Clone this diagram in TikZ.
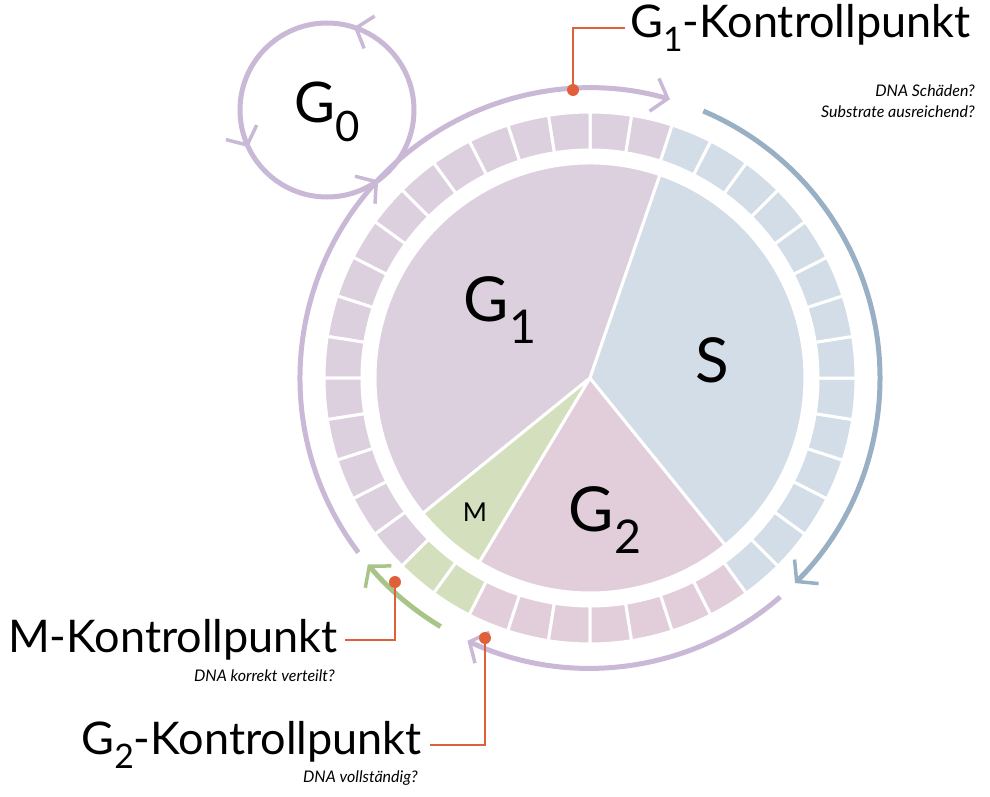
\documentclass[tikz,border=0pt]{standalone}
\usepackage{fontspec}
\setmainfont{Lato}
\usetikzlibrary{arrows.meta,decorations.markings}
\definecolor{pG}{HTML}{DCD0DF}
\definecolor{pArc}{HTML}{C9B8D6}
\definecolor{bS}{HTML}{D3DDE7}
\definecolor{bArc}{HTML}{99AFC4}
\definecolor{pk}{HTML}{E2CEDB}
\definecolor{gr}{HTML}{D3DFBD}
\definecolor{grArc}{HTML}{A8C488}
\definecolor{org}{HTML}{E0603A}
\newcommand\lowsub[2]{\raisebox{-#2}{\scalebox{0.75}{#1}}}
\tikzset{
 sector/.style={draw=white,line width=3pt},
 chev/.tip={Straight Barb[length=14pt,width=34pt,line width=3.5pt]},
 arcline/.style={line width=5pt,-chev},
 leader/.style={draw=org,line width=1.2pt},
 dot/.style={circle,fill=org,inner sep=0pt,minimum size=12pt},
 big/.style={font=\fontsize{62}{62}\selectfont},
 ttl/.style={font=\fontsize{45}{45}\selectfont,inner sep=0pt},
 subt/.style={font=\fontsize{16}{21}\selectfont\itshape,inner sep=0pt,align=right}
}
\begin{document}
\begin{tikzpicture}[x=1pt,y=1pt]
\useasboundingbox (-590,-418) rectangle (400,378);
% ring segments
\foreach \k in {0,...,39}{
 \pgfmathsetmacro\a{72+9*\k}
 \pgfmathsetmacro\b{\a+9}
 \pgfmathsetmacro\m{mod(\a+4.5,360)}
 \pgfmathparse{\m<225 && \m>72 ? "pG" : (\m<243 && \m>225 ? "gr" : (\m<306 && \m>243 ? "pk" : "bS"))}
 \edef\col{\pgfmathresult}
 \fill[\col,draw=white,line width=3pt] (\a:228) arc (\a:\b:228) -- (\b:266) arc (\b:\a:266) -- cycle;
}
% pie
\fill[pG,sector] (0,0) -- (71:215) arc (71:219:215) -- cycle;
\fill[gr,sector] (0,0) -- (219:215) arc (219:239:215) -- cycle;
\fill[pk,sector] (0,0) -- (239:215) arc (239:309:215) -- cycle;
\fill[bS,sector] (0,0) -- (-51:215) arc (-51:71:215) -- cycle;
\node[big] (g1) at (-90,68) {G\lowsub{1}{0.35em}};
\node[big] (s) at (122,18) {S};
\node[big] (g2) at (15,-142) {G\lowsub{2}{0.35em}};
\node[font=\fontsize{26}{26}\selectfont] (m) at (-115,-134) {M};
% outer arcs
\draw[pArc,arcline] (217:290) arc (217:74:290);
\draw[bArc,arcline] (67:290) arc (67:-45:290);
\draw[pArc,arcline] (-49:290) arc (-49:-115:290);
\draw[grArc,arcline] (-121:290) arc (-121:-140:290);
% G0
\draw[pArc,line width=5pt,postaction={decorate},decoration={markings,
  mark=at position 0.2 with {\arrow{chev}},
  mark=at position 0.57 with {\arrow{chev}},
  mark=at position 0.85 with {\arrow{chev}}}]
  (-263,268) ++(0:87) arc (0:360:87);
\node[font=\fontsize{56}{56}\selectfont] (g0) at (-263,266) {G\lowsub{0}{0.35em}};
% checkpoints
\node[dot] (d1) at (-17,288) {};
\coordinate (c1a) at (-17,350); \coordinate (c1b) at (35,350);
\draw[leader] (d1) -- (c1a) -- (c1b);
\node[ttl,anchor=west] (t1) at (40,350) {G\lowsub{1}{0.3em}-Kontrollpunkt};
\node[subt,anchor=east] (s1) at (385,277) {DNA Schäden?\\Substrate ausreichend?};
\node[dot] (d2) at (-195,-204) {};
\coordinate (c2a) at (-195,-262); \coordinate (c2b) at (-245,-262);
\draw[leader] (d2) -- (c2a) -- (c2b);
\node[ttl,anchor=east] (t2) at (-252,-262) {M-Kontrollpunkt};
\node[subt,anchor=east] (s2) at (-255,-298) {DNA korrekt verteilt?};
\node[dot] (d3) at (-105,-260) {};
\coordinate (c3a) at (-105,-367); \coordinate (c3b) at (-160,-367);
\draw[leader] (d3) -- (c3a) -- (c3b);
\node[ttl,anchor=east] (t3) at (-168,-367) {G\lowsub{2}{0.3em}-Kontrollpunkt};
\node[subt,anchor=east] (s3) at (-172,-400) {DNA vollständig?};
\end{tikzpicture}
\end{document}
